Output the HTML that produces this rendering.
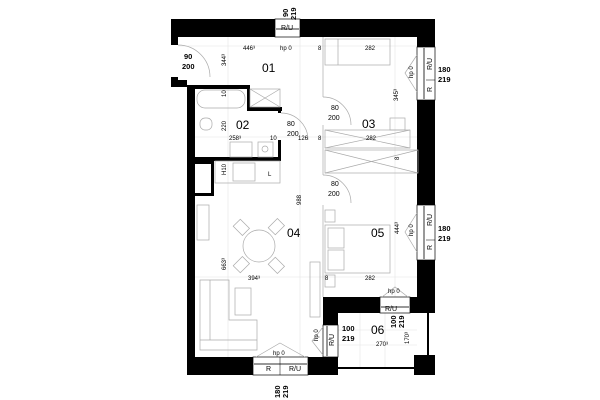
<!DOCTYPE html>
<html><head><meta charset="utf-8"><style>
html,body{margin:0;padding:0;background:#fff}
svg{display:block}
text{font-family:"Liberation Sans",sans-serif;fill:#000}
.s{font-size:6px;fill:#444}
.m{font-size:7px}
.b{font-size:7.5px;font-weight:bold}
.r{font-size:12px}
.f{fill:none;stroke:#aaa;stroke-width:0.7}
.g{fill:none;stroke:#e4e4e4;stroke-width:0.6}
</style></head><body>
<svg width="600" height="400" viewBox="0 0 600 400" xmlns="http://www.w3.org/2000/svg">
<!-- faint grid lines -->
<g class="g">
<line x1="178" y1="46" x2="418" y2="46"/><line x1="195" y1="137" x2="418" y2="137"/>
<line x1="195" y1="277" x2="418" y2="277"/><line x1="228" y1="37" x2="228" y2="357"/>
<line x1="300" y1="37" x2="300" y2="357"/><line x1="395" y1="37" x2="395" y2="297"/>
<line x1="338" y1="330" x2="417" y2="330"/><line x1="338" y1="345" x2="417" y2="345"/>
<line x1="360" y1="313" x2="360" y2="368"/><line x1="385" y1="313" x2="385" y2="368"/>
</g>
<!-- walls -->
<g fill="#000">
<rect x="171" y="19" width="104" height="18"/>
<rect x="300" y="19" width="135" height="18"/>
<rect x="171" y="37" width="7" height="8"/>
<rect x="171" y="77" width="7" height="10"/>
<rect x="178" y="80" width="9" height="7"/>
<rect x="187" y="85" width="8" height="290"/>
<rect x="187" y="357" width="66" height="18"/>
<rect x="308" y="357" width="15" height="18"/>
<rect x="323" y="313" width="15" height="62"/>
<rect x="323" y="297" width="57" height="16"/>
<rect x="410" y="297" width="8" height="16"/>
<rect x="417" y="37" width="18" height="10"/>
<rect x="417" y="100" width="18" height="105"/>
<rect x="417" y="260" width="18" height="53"/>
<rect x="414" y="355" width="21" height="20"/>
<rect x="427" y="313" width="2" height="42"/>
<rect x="338" y="367" width="76" height="2"/>
<rect x="195" y="85" width="55" height="4"/>
<rect x="247" y="85" width="3" height="26"/>
<rect x="247" y="107" width="35" height="4"/>
<rect x="278" y="107" width="3" height="6"/>
<rect x="278" y="140" width="3" height="21"/>
<rect x="195" y="157" width="86" height="4"/>
<rect x="195" y="161" width="19" height="3"/>
<rect x="211" y="161" width="3" height="35"/>
<rect x="195" y="193" width="19" height="3"/>
</g>
<!-- windows -->
<g fill="#fff" stroke="#000" stroke-width="0.7">
<rect x="275" y="19" width="25" height="18"/>
<rect x="417" y="47" width="18" height="53"/>
<rect x="417" y="205" width="18" height="55"/>
<rect x="380" y="297" width="30" height="16"/>
<rect x="323" y="325" width="15" height="32"/>
<rect x="253" y="357" width="55" height="18"/>
</g>
<g stroke="#777" stroke-width="1.5">
<line x1="276" y1="29" x2="299" y2="29"/><line x1="424" y1="48" x2="424" y2="99"/>
<line x1="424" y1="206" x2="424" y2="259"/><line x1="381" y1="307" x2="409" y2="307"/>
<line x1="327" y1="326" x2="327" y2="356"/><line x1="254" y1="364" x2="307" y2="364"/>
</g>
<line x1="280" y1="357" x2="280" y2="375" stroke="#000" stroke-width="0.5"/>
<line x1="426" y1="80" x2="435" y2="80" stroke="#000" stroke-width="0.5"/>
<line x1="426" y1="240" x2="435" y2="240" stroke="#000" stroke-width="0.5"/>
<!-- thin partitions -->
<g class="f">
<line x1="323" y1="37" x2="323" y2="97"/><line x1="323" y1="125" x2="323" y2="175"/>
<line x1="323" y1="205" x2="323" y2="297"/>
<rect x="325" y="39" width="65" height="26"/><line x1="338" y1="39" x2="338" y2="65"/>
<rect x="325" y="130" width="85" height="18"/><line x1="325" y1="130" x2="410" y2="148"/><line x1="325" y1="148" x2="410" y2="130"/>
<rect x="325" y="150" width="93" height="23"/><line x1="325" y1="150" x2="418" y2="173"/><line x1="325" y1="173" x2="418" y2="150"/>
<rect x="390" y="118" width="15" height="12"/>
<rect x="250" y="89" width="30" height="18"/><line x1="250" y1="89" x2="280" y2="107"/><line x1="250" y1="107" x2="280" y2="89"/>
<rect x="197" y="90" width="48" height="18" rx="8"/>
<rect x="200" y="118" width="12" height="12" rx="5"/>
<rect x="230" y="142" width="22" height="15"/><rect x="258" y="142" width="15" height="15"/><circle cx="265" cy="149" r="3"/>
<rect x="233" y="163" width="22" height="18"/><rect x="215" y="161" width="65" height="22"/>
<rect x="197" y="205" width="12" height="35"/>
<rect x="325" y="225" width="65" height="48"/><rect x="328" y="228" width="16" height="20"/><rect x="328" y="250" width="16" height="20"/>
<rect x="325" y="210" width="10" height="12"/><rect x="325" y="275" width="10" height="12"/>
<rect x="310" y="262" width="10" height="55"/>
<circle cx="259" cy="246" r="16"/>
<rect x="235" y="222" width="13" height="10" transform="rotate(45 241 227)"/>
<rect x="270" y="222" width="13" height="10" transform="rotate(-45 276 227)"/>
<rect x="235" y="260" width="13" height="10" transform="rotate(-45 241 265)"/>
<rect x="270" y="260" width="13" height="10" transform="rotate(45 276 265)"/>
<path d="M200 280 H229 V320 H257 V350 H200 Z"/><line x1="210" y1="280" x2="210" y2="340"/><line x1="200" y1="340" x2="257" y2="340"/>
<rect x="235" y="288" width="16" height="27"/>
<path d="M178 45 A32 32 0 0 1 210 77"/><path d="M323 97 A28 28 0 0 1 351 125"/><path d="M323 175 A28 28 0 0 1 351 203"/>
<path d="M281 113 A27 27 0 0 1 308 140"/>
<path d="M417 55 L405 73 L417 92"/><path d="M417 213 L405 232 L417 252"/>
<path d="M382 297 L395 287 L408 297"/><path d="M323 327 L312 341 L323 355"/><path d="M256 357 L280 343 L305 357"/>
</g>
<!-- labels -->
<text class="r" x="262" y="72">01</text><text class="r" x="236" y="129">02</text>
<text class="r" x="362" y="128">03</text><text class="r" x="287" y="237">04</text>
<text class="r" x="371" y="237">05</text><text class="r" x="371" y="334">06</text>
<g class="s">
<text x="243" y="50">446³</text><text x="318" y="50">8</text><text x="365" y="50">282</text>
<text x="280" y="50">hp 0</text>
<text x="229" y="140">258³</text><text x="270" y="140">10</text><text x="298" y="140">126</text>
<text x="318" y="140">8</text><text x="366" y="140">282</text><text x="268" y="176">L</text>
<text x="248" y="280">394³</text><text x="325" y="280">8</text><text x="365" y="280">282</text>
<text x="388" y="293">hp 0</text><text x="273" y="355">hp 0</text><text x="376" y="346">270³</text>
<text transform="translate(226 66) rotate(-90)">344³</text>
<text transform="translate(226 97) rotate(-90)">10</text>
<text transform="translate(226 131) rotate(-90)">220</text>
<text transform="translate(226 175) rotate(-90)">H10</text>
<text transform="translate(301 205) rotate(-90)">988</text>
<text transform="translate(226 270) rotate(-90)">663³</text>
<text transform="translate(398 101) rotate(-90)">345³</text>
<text transform="translate(399 160) rotate(-90)">8</text>
<text transform="translate(399 234) rotate(-90)">444³</text>
<text transform="translate(409 344) rotate(-90)">170³</text>
<text transform="translate(413 78) rotate(-90)">hp 0</text>
<text transform="translate(413 236) rotate(-90)">hp 0</text>
<text transform="translate(318 341) rotate(-90)">hp 0</text>
</g>
<g class="m">
<text x="281" y="30">R/U</text><text x="385" y="311">R/U</text>
<text x="266" y="371">R</text><text x="289" y="371">R/U</text>
<text transform="translate(432 70) rotate(-90)">R/U</text>
<text transform="translate(432 92) rotate(-90)">R</text>
<text transform="translate(432 226) rotate(-90)">R/U</text>
<text transform="translate(432 250) rotate(-90)">R</text>
<text transform="translate(334 346) rotate(-90)">R/U</text>
<text x="331" y="110">80</text><text x="328" y="120">200</text>
<text x="287" y="126">80</text><text x="287" y="136">200</text>
<text x="331" y="186">80</text><text x="328" y="196">200</text>
</g>
<g class="b">
<text x="184" y="59">90</text><text x="182" y="69">200</text>
<text x="438" y="72">180</text><text x="438" y="82">219</text>
<text x="438" y="231">180</text><text x="438" y="241">219</text>
<text x="342" y="331">100</text><text x="342" y="341">219</text>
<text transform="translate(288 17) rotate(-90)">90</text>
<text transform="translate(296 20) rotate(-90)">219</text>
<text transform="translate(396 328) rotate(-90)">100</text>
<text transform="translate(404 328) rotate(-90)">219</text>
<text transform="translate(280 398) rotate(-90)">180</text>
<text transform="translate(288 398) rotate(-90)">219</text>
</g>
</svg>
</body></html>
